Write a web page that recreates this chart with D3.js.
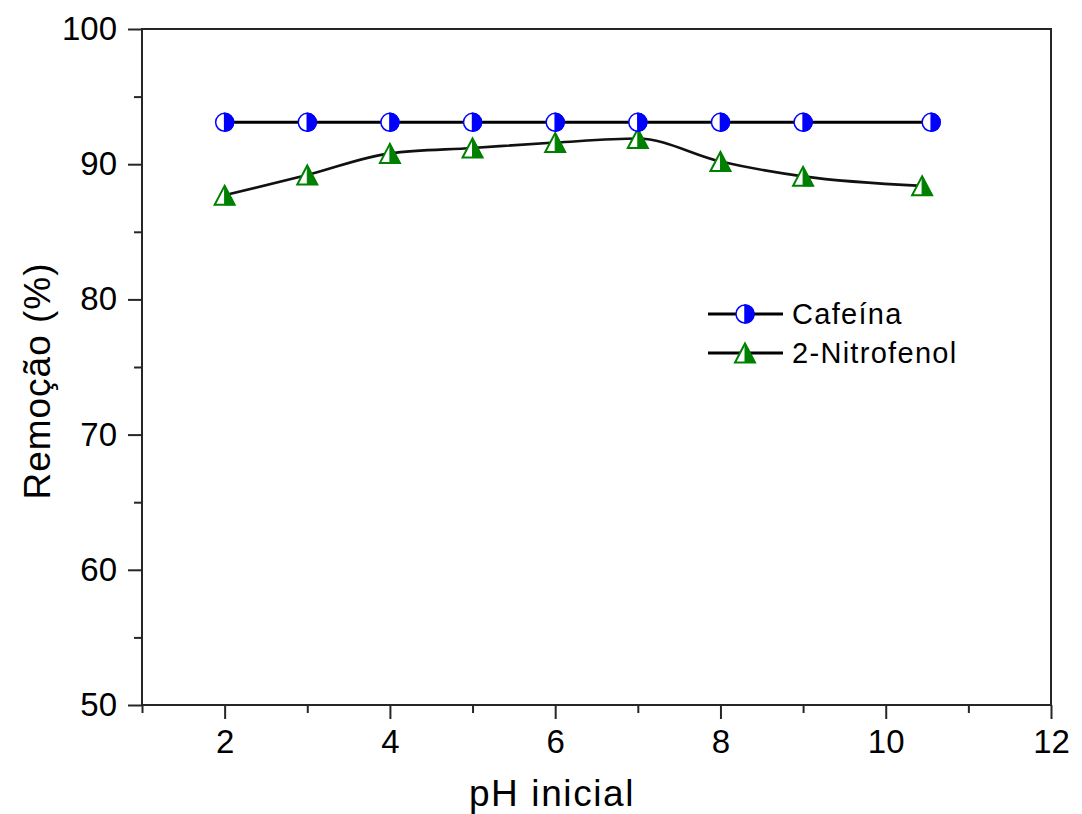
<!DOCTYPE html>
<html>
<head>
<meta charset="utf-8">
<script src="https://cdn.jsdelivr.net/npm/d3@7"></script>
<style>
  body { margin: 0; background: #fff; }
  text { font-family: "Liberation Sans", Arial, sans-serif; fill: #000; }
</style>
</head>
<body>
<svg id="chart" width="1082" height="814"></svg>
<script>
/* data */
const phCafeina = [2, 3, 4, 5, 6, 7, 8, 9, 10.55];
const cafeina = [93.1, 93.1, 93.1, 93.1, 93.1, 93.1, 93.1, 93.1, 93.1];
const phNitrofenol = [2, 3, 4, 5, 6, 7, 8, 9, 10.44];
const nitrofenol = [87.7, 89.2, 90.8, 91.2, 91.6, 91.9, 90.2, 89.1, 88.4];
const seriesNames = ["Cafeína", "2-Nitrofenol"];
const xMajorTicks = [2, 4, 6, 8, 10, 12];
const xMinorTicks = [1, 3, 5, 7, 9, 11];
const yMajorTicks = [50, 60, 70, 80, 90, 100];
const yMinorTicks = [55, 65, 75, 85, 95];

const svg = d3.select("#chart");
const plotLeft = 142, plotRight = 1051, plotTop = 29, plotBottom = 705;
const blue = "#0000ff", green = "#008000", axisColor = "#262626";

var x = d3.scaleLinear().domain([1, 12]).range([plotLeft, plotRight]);
var y = d3.scaleLinear().domain([50, 100]).range([plotBottom, plotTop]);

/* x axis: major + minor ticks */
svg.append("g")
    .attr("transform", "translate(0," + plotBottom + ")")
    .call(d3.axisBottom(x).tickValues(xMajorTicks).tickSize(14).tickSizeOuter(0).tickPadding(11))
    .call(g => g.select(".domain").remove())
    .call(g => g.selectAll(".tick line").attr("stroke", axisColor).attr("stroke-width", 2))
    .call(g => g.selectAll(".tick text").style("font-size", "33px").attr("fill", "#000"));

svg.append("g")
    .attr("transform", "translate(0," + plotBottom + ")")
    .call(d3.axisBottom(x).tickValues(xMinorTicks).tickSize(8).tickFormat(""))
    .call(g => g.select(".domain").remove())
    .call(g => g.selectAll(".tick line").attr("stroke", axisColor).attr("stroke-width", 2));

/* y axis: major + minor ticks */
svg.append("g")
    .attr("transform", "translate(" + plotLeft + ",0)")
    .call(d3.axisLeft(y).tickValues(yMajorTicks).tickSize(14).tickSizeOuter(0).tickPadding(11))
    .call(g => g.select(".domain").remove())
    .call(g => g.selectAll(".tick line").attr("stroke", axisColor).attr("stroke-width", 2))
    .call(g => g.selectAll(".tick text").style("font-size", "33px").attr("fill", "#000"));

svg.append("g")
    .attr("transform", "translate(" + plotLeft + ",0)")
    .call(d3.axisLeft(y).tickValues(yMinorTicks).tickSize(8).tickFormat(""))
    .call(g => g.select(".domain").remove())
    .call(g => g.selectAll(".tick line").attr("stroke", axisColor).attr("stroke-width", 2));

/* plot frame */
svg.append("rect")
    .attr("x", plotLeft)
    .attr("y", plotTop)
    .attr("width", plotRight - plotLeft)
    .attr("height", plotBottom - plotTop)
    .attr("fill", "none")
    .attr("stroke", axisColor)
    .attr("stroke-width", 2);

/* axis labels */
svg.append("text")
    .attr("x", 552)
    .attr("y", 806)
    .attr("text-anchor", "middle")
    .style("font-size", "37px")
    .style("letter-spacing", "1.6px")
    .text("pH inicial");

svg.append("text")
    .attr("transform", "translate(50,381) rotate(-90)")
    .attr("text-anchor", "middle")
    .style("font-size", "37px")
    .style("letter-spacing", "1px")
    .text("Remoção (%)");

/* markers */
function halfCircle(g, cx, cy) {
    const r = 9;
    g.append("circle")
        .attr("cx", cx).attr("cy", cy).attr("r", r)
        .attr("fill", "#fff").attr("stroke", blue).attr("stroke-width", 1.5);
    g.append("path")
        .attr("d", "M" + cx + "," + (cy - r) + " A" + r + "," + r + " 0 0 1 " + cx + "," + (cy + r) + " Z")
        .attr("fill", blue).attr("stroke", blue).attr("stroke-width", 1.5);
}

function halfTriangle(g, cx, cy) {
    const w = 20, h = 19;
    g.append("path")
        .attr("d", "M" + cx + "," + (cy - h / 2) + " L" + (cx + w / 2) + "," + (cy + h / 2) +
            " L" + (cx - w / 2) + "," + (cy + h / 2) + " Z")
        .attr("fill", "#fff").attr("stroke", green).attr("stroke-width", 2).attr("stroke-linejoin", "miter");
    g.append("path")
        .attr("d", "M" + cx + "," + (cy - h / 2) + " L" + (cx + w / 2) + "," + (cy + h / 2) +
            " L" + cx + "," + (cy + h / 2) + " Z")
        .attr("fill", green).attr("stroke", green).attr("stroke-width", 1);
}

/* lines */
const cafData = phCafeina.map((d, i) => ({ x: d, y: cafeina[i] }));
const nitroData = phNitrofenol.map((d, i) => ({ x: d, y: nitrofenol[i] }));

svg.append("path")
    .datum(nitroData)
    .attr("fill", "none")
    .attr("stroke", "#111")
    .attr("stroke-width", 2.6)
    .attr("d", d3.line().x(d => x(d.x)).y(d => y(d.y)).curve(d3.curveMonotoneX));

svg.append("path")
    .datum(cafData)
    .attr("fill", "none")
    .attr("stroke", "#000")
    .attr("stroke-width", 3)
    .attr("d", d3.line().x(d => x(d.x)).y(d => y(d.y)));

const nitroMarks = svg.append("g");
nitroData.forEach(d => halfTriangle(nitroMarks, x(d.x), y(d.y)));

const cafMarks = svg.append("g");
cafData.forEach(d => halfCircle(cafMarks, x(d.x), y(d.y)));

/* legend */
const legendX = 708, legendY = [314, 353];
seriesNames.forEach((name, i) => {
    const g = svg.append("g");
    g.append("line")
        .attr("x1", legendX).attr("x2", legendX + 75)
        .attr("y1", legendY[i]).attr("y2", legendY[i])
        .attr("stroke", "#000").attr("stroke-width", 3);
    if (i === 0) halfCircle(g, legendX + 37, legendY[i]);
    else halfTriangle(g, legendX + 37, legendY[i]);
    g.append("text")
        .attr("x", legendX + 84)
        .attr("y", legendY[i] + 10)
        .style("font-size", "29px")
        .style("letter-spacing", "1.3px")
        .text(name);
});
</script>
</body>
</html>
